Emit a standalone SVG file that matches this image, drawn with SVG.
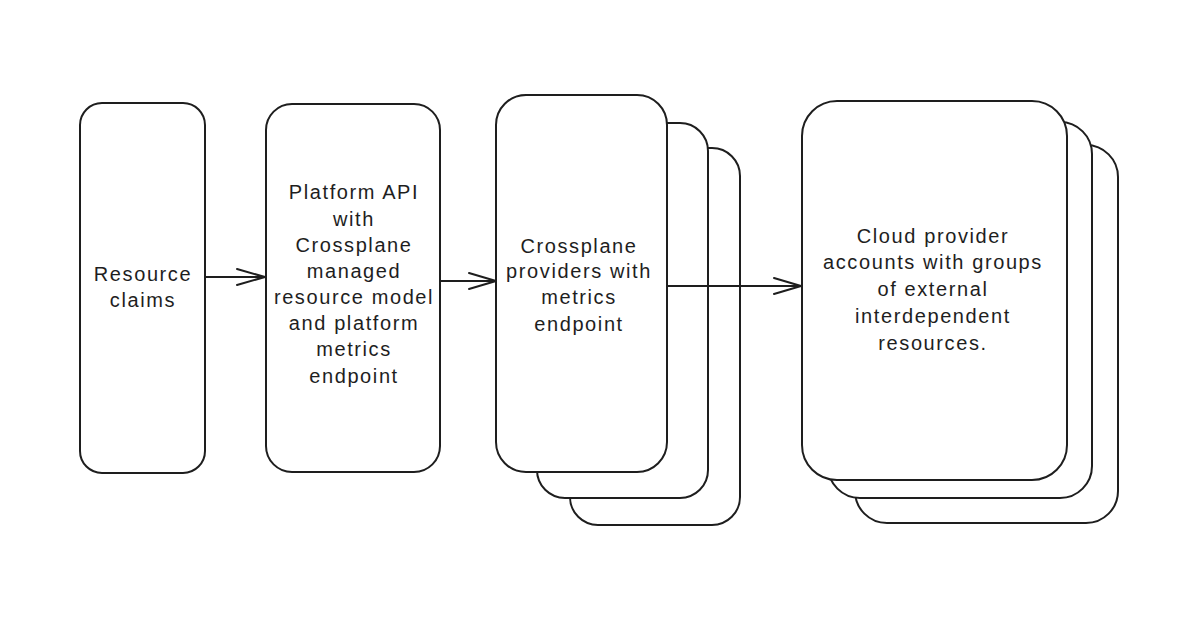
<svg xmlns="http://www.w3.org/2000/svg" width="1200" height="630" viewBox="0 0 1200 630">
<style>
.box{fill:#ffffff;stroke:#1e1e1e;stroke-width:2}
.ln{fill:none;stroke:#1e1e1e;stroke-width:2;stroke-linecap:round;stroke-linejoin:round}
.t{font-family:"Liberation Sans",Arial,sans-serif;font-size:20px;letter-spacing:1.6px;fill:#1e1e1e;text-anchor:middle}
</style>
<rect width="1200" height="630" fill="#ffffff"/>
<g id="node-claims">
<rect class="box" x="80" y="103" width="125" height="370" rx="22"/>
<text class="t" x="143" y="281">Resource</text>
<text class="t" x="143" y="307">claims</text>
</g>
<g id="node-platform">
<rect class="box" x="266" y="104" width="174" height="368" rx="26"/>
<text class="t" x="354" y="199">Platform API</text>
<text class="t" x="354" y="226">with</text>
<text class="t" x="354" y="252">Crossplane</text>
<text class="t" x="354" y="278">managed</text>
<text class="t" x="354" y="304">resource model</text>
<text class="t" x="354" y="330">and platform</text>
<text class="t" x="354" y="356">metrics</text>
<text class="t" x="354" y="383">endpoint</text>
</g>
<g id="node-providers">
<rect class="box" x="570" y="148" width="170" height="377" rx="28"/>
<rect class="box" x="537" y="123" width="171" height="375" rx="28"/>
<rect class="box" x="496" y="95" width="171" height="377" rx="30"/>
<text class="t" x="579" y="253">Crossplane</text>
<text class="t" x="579" y="278">providers with</text>
<text class="t" x="579" y="304">metrics</text>
<text class="t" x="579" y="331">endpoint</text>
</g>
<g id="node-cloud">
<rect class="box" x="855" y="145" width="263" height="378" rx="32"/>
<rect class="box" x="828" y="122" width="264" height="376" rx="32"/>
<rect class="box" x="802" y="101" width="265" height="379" rx="35"/>
<text class="t" x="933" y="243">Cloud provider</text>
<text class="t" x="933" y="269">accounts with groups</text>
<text class="t" x="933" y="296">of external</text>
<text class="t" x="933" y="323">interdependent</text>
<text class="t" x="933" y="350">resources.</text>
</g>
<g id="connectors">
<path class="ln" d="M205 277 L265 277 M237 269 L265 277 L237 285"/>
<path class="ln" d="M440 281 L496 281 M469 273 L496 281 L469 289"/>
<path class="ln" d="M667 286 L801 286 M774 278 L801 286 L774 294"/>
</g>
</svg>
